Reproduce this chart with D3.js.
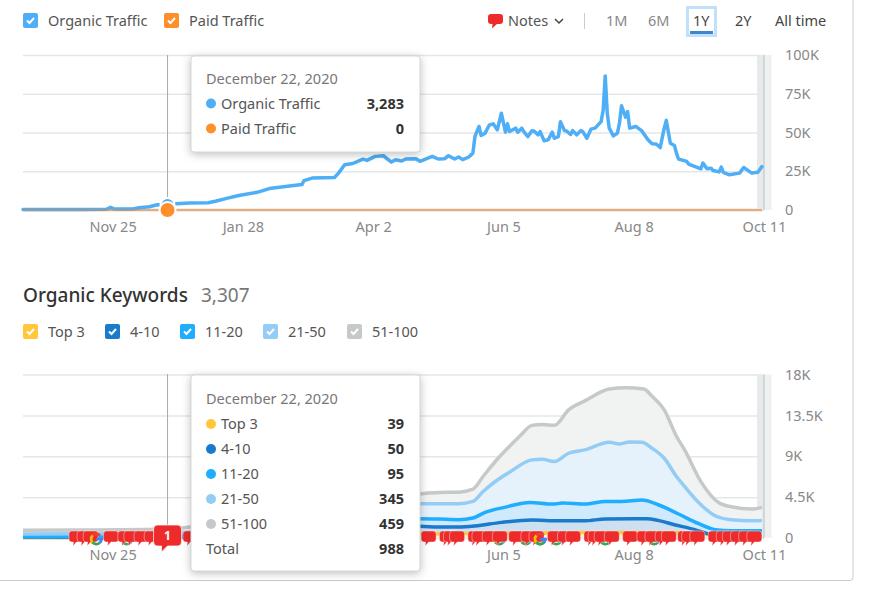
<!DOCTYPE html>
<html>
<head>
<meta charset="UTF-8">
<title>Organic Traffic and Keywords</title>
<script src="https://cdn.jsdelivr.net/npm/d3@7"></script>
<style>
    body { margin: 0; background: #fff; }
    svg { display: block; }
    text { font-family: "Noto Sans", sans-serif; font-size: 14.5px; fill: #555; }
    .axis text { fill: #888; font-size: 14.5px; }
    .axis .domain { display: none; }
    .xaxis line { display: none; }
    .yaxis line { stroke: #e5e7e7; stroke-width: 1.5; }
</style>
</head>
<body>
<svg id="svg" width="873" height="605"></svg>
<script>
var WIDTH = 873, HEIGHT = 605;
var LEFT = 23, RIGHT = 764;

// days are counted from the first date of the chart
var startDate = new Date(2020, 9, 12);
var xTickDates = [new Date(2020, 10, 25), new Date(2021, 0, 28), new Date(2021, 3, 2), new Date(2021, 5, 5), new Date(2021, 7, 8), new Date(2021, 9, 11)];
// Jan 28 and Apr 2 are behind the tooltip in the lower chart
var xTickDatesLower = [new Date(2020, 10, 25), new Date(2021, 5, 5), new Date(2021, 7, 8), new Date(2021, 9, 11)];

var trafficTicks = [0, 25, 50, 75, 100];
var keywordTicks = [0, 4.5, 9, 13.5, 18];

var organicDays = [0,28,41,43,45,54,57,62,66,71,75,82,91,95,100,106,115,121,129,137,138,142,153,155,158,162,167,169,173,177,181,183,186,188,193,195,201,204,207,209,212,214,216,219,221,222,224,225,227,229,231,233,235,237,238,239,242,243,245,246,248,250,251,253,254,256,258,260,261,263,264,266,267,269,270,272,274,275,277,279,281,284,285,286,287,288,290,292,293,294,296,297,298,301,304,307,309,311,313,315,316,318,320,321,322,326,327,333,334,336,338,339,342,343,344,347,352,354,358,361,363];
var organicValues = [0.3,0.4,0.5,1.7,0.6,0.6,1.5,2.1,3.4,3.283,4.1,4.5,4.7,5.8,7.5,9.4,11.4,13.8,15.1,16.4,18.9,20.6,21,23.8,29.2,30,32.8,32,34.6,35,30.9,32.4,31.6,32.9,33.1,31.4,34.6,32.9,33,35,32.9,34.2,32.5,34.2,36.7,47.4,53.9,48.1,49.6,54.7,55.6,51.7,62.4,50.2,55.6,50.6,52.8,50.2,52.8,50.6,47.4,51.2,51,48.5,50.6,44.6,45.3,50.2,46.3,47.4,57,51.2,51,48.7,51.2,48.5,51.2,50.6,46.3,52.2,52.8,57,64.5,86.5,62.4,52.8,47.8,49.6,56,67.2,59.9,63.5,52.8,53.9,51,45.3,42.8,42.6,40.3,52.8,57.8,43.1,41.6,36.7,32.9,31.4,29.6,26.6,30.3,26.6,27,25.5,24.6,27.7,24.3,22.7,23.8,27.4,23.8,24.3,28];
var paidDays = [0, 363];
var paidValues = [0, 0];

// keyword lines are stacked, so these are the running totals (thousands)
var grayDays = [0,30,71,82,130,170,195,204,214,221,226,232,239,244,250,255,261,268,276,288,296,305,309,315,321,325,333,342,348,358,363];
var grayValues = [0.85,0.88,0.988,1.2,2.8,4.4,4.87,5,5.05,5.38,6.77,8.42,10.1,11.2,12.4,12.5,12.4,14.1,15.1,16.4,16.55,16.4,15.6,14.1,11.2,9.7,6.2,3.85,3.44,3.18,3.37];
var paleDays = [0,30,71,82,130,170,195,204,214,221,226,232,239,250,255,261,268,276,288,293,298,304,309,315,321,325,333,340,348,358,363];
var paleValues = [0.45,0.48,0.529,0.65,2,3.4,3.77,3.77,3.77,4.03,5.12,6.22,7.25,8.6,8.67,8.42,9.33,9.7,10.54,10.36,10.58,10.54,9.88,8.78,6.77,5.67,3.66,2.45,2.01,1.9,1.94];
var cyanDays = [0,30,71,130,170,195,204,214,221,227,237,249,260,265,276,286,294,304,312,322,332,340,348,363];
var cyanValues = [0.12,0.14,0.184,1,1.9,2.12,2.09,2.01,2.2,2.82,3.4,3.92,3.73,3.84,3.73,4.03,4.03,4.17,3.66,2.64,1.57,0.92,0.8,0.8];
var blueDays = [0,71,130,170,195,204,214,222,235,250,263,276,286,306,312,320,330,335,341,363];
var blueValues = [0.08,0.089,0.6,1.1,1.28,1.21,1.21,1.32,1.72,1.98,1.9,1.9,2.09,2.12,1.94,1.46,0.92,0.55,0.26,0.2];
var topDays = [0,71,130,195,276,322,335,345,363];
var topValues = [0.03,0.039,0.3,0.45,0.6,0.6,0.4,0.3,0.15];

var noteDays = [26,30,33,43,50,53,58,63,82,199,208,210,213,222,224,229,234,242,248,252,261,266,270,279,281,284,289,298,305,309,314,317,325,327,331,340,344,347,351,355,359];
var googleUnderDays = [51,234,247,254,262,286,310];
var googleOverDays = [36,254];

var trafficLegend = ["Organic Traffic", "Paid Traffic"];
var trafficLegendX = [23, 164];
var trafficColors = ["#4eaef6", "#ff8f2b"];
var keywordNames = ["Top 3", "4-10", "11-20", "21-50", "51-100"];
var keywordLegendX = [23, 105, 180, 263, 347];
var keywordColors = ["#ffc73a", "#1a7acc", "#1fadff", "#93ccf5", "#c6c9c9"];
var ranges = ["1M", "6M", "1Y", "2Y", "All time"];
var rangeX = [606, 648, 693, 735, 775];
var rangeColors = ["#888", "#888", "#444", "#444", "#444"];
var trafficTip = ["3,283", "0"];
var keywordTip = ["39", "50", "95", "345", "459"];

var svg = d3.select("#svg");

var xScale = d3.scaleTime()
    .domain([startDate, xTickDates[5]])
    .range([LEFT, RIGHT]);
var yTraffic = d3.scaleLinear().domain([0, 100]).range([210, 55]);
var yKeywords = d3.scaleLinear().domain([0, 18]).range([538, 374.5]);

function dayX(d) {
    return xScale(d3.timeDay.offset(startDate, d));
}

function checkbox(x, y, color) {
    svg.append("rect").attr("x", x).attr("y", y).attr("width", 15).attr("height", 15).attr("rx", 2).attr("fill", color);
    svg.append("path")
        .attr("transform", "translate(" + x + "," + y + ")")
        .attr("d", "M4 7.5L6.5 10L11 5")
        .attr("fill", "none").attr("stroke", "#fff").attr("stroke-width", 2);
}

// card outline
svg.append("path")
    .attr("d", "M0 580.5H850a3 3 0 0 0 3-3V0")
    .attr("fill", "none").attr("stroke", "#ccc");

// top legend
trafficLegend.forEach(function(name, i) {
    checkbox(trafficLegendX[i], 13, trafficColors[i]);
    svg.append("text").attr("x", trafficLegendX[i] + 25).attr("y", 26).text(name);
});

// notes and range buttons
svg.append("path").attr("transform", "translate(488,14)")
    .attr("d", "M3 0H12a3 3 0 0 1 3 3V7a3 3 0 0 1-3 3H9L4 14.5L4.5 10H3a3 3 0 0 1-3-3V3a3 3 0 0 1 3-3Z")
    .attr("fill", "#ee2b2b");
svg.append("text").attr("x", 508).attr("y", 26).text("Notes");
svg.append("path").attr("d", "M555 19L559 23L563 19").attr("fill", "none").attr("stroke", "#444").attr("stroke-width", 1.5);
svg.append("line").attr("x1", 584.5).attr("x2", 584.5).attr("y1", 13).attr("y2", 29).attr("stroke", "#ccc");
svg.append("rect").attr("x", 687.5).attr("y", 7.5).attr("width", 28).attr("height", 28).attr("fill", "none").attr("stroke", "#c2e0f7").attr("stroke-width", 3);
svg.append("rect").attr("x", 690).attr("y", 31).attr("width", 23).attr("height", 3).attr("fill", "#3f86d0");
ranges.forEach(function(r, i) {
    svg.append("text").attr("x", rangeX[i]).attr("y", 26).style("fill", rangeColors[i]).text(r);
});

function drawAxes(yScale, ticks, fmt, xTicks) {
    svg.append("g").attr("class", "axis yaxis")
        .attr("transform", "translate(" + RIGHT + ",0)")
        .call(d3.axisRight(yScale).tickValues(ticks).tickFormat(fmt).tickSize(-(RIGHT - LEFT)).tickPadding(21));
    svg.append("g").attr("class", "axis xaxis")
        .attr("transform", "translate(0," + yScale(0) + ")")
        .call(d3.axisBottom(xScale).tickValues(xTicks).tickFormat(d3.timeFormat("%b %-d")).tickSize(0).tickPadding(12));
    // hover band on the last date
    var top = yScale(ticks[4]), h = yScale(0) - top;
    svg.append("rect").attr("x", RIGHT).attr("y", top).attr("width", 7.5).attr("height", h).attr("fill", "#eef1f1");
    svg.append("rect").attr("x", RIGHT - 7).attr("y", top).attr("width", 7).attr("height", h).attr("fill", "#e6eaea");
    svg.append("line").attr("x1", RIGHT).attr("x2", RIGHT).attr("y1", top).attr("y2", yScale(0)).attr("stroke", "#b8c0c0");
}

var kFormat = function(d) { return d === 0 ? "0" : d + "K"; };
drawAxes(yTraffic, trafficTicks, kFormat, xTickDates);
drawAxes(yKeywords, keywordTicks, kFormat, xTickDatesLower);

function seriesLine(days, values, yScale, curve) {
    var pts = days.map(function(d, i) { return [dayX(d), yScale(values[i])]; });
    return d3.line().curve(curve)(pts);
}
function seriesArea(days, values, yScale, curve) {
    var pts = days.map(function(d, i) { return [dayX(d), yScale(values[i])]; });
    return d3.area().curve(curve).y0(yScale(0))(pts);
}

// traffic lines, the paid line stays visible through the blue one
svg.append("path").attr("d", seriesLine(paidDays, paidValues, yTraffic, d3.curveLinear))
    .attr("fill", "none").attr("stroke", "#f7dcc4").attr("stroke-width", 3);
svg.append("path").attr("d", seriesLine(organicDays, organicValues, yTraffic, d3.curveLinear))
    .attr("fill", "none").attr("stroke", "#4eaef6").attr("stroke-width", 3.5)
    .attr("stroke-linejoin", "round").attr("stroke-linecap", "round");
svg.append("path").attr("d", seriesLine(paidDays, paidValues, yTraffic, d3.curveLinear))
    .attr("fill", "none").attr("stroke", "#c98a55").attr("stroke-width", 1.5).attr("stroke-opacity", 0.75);

// hover marks in the traffic chart
var hoverX = dayX(71);
svg.append("line").attr("x1", hoverX).attr("x2", hoverX).attr("y1", 55).attr("y2", 205).attr("stroke", "#aaa");
svg.append("circle").attr("cx", hoverX).attr("cy", yTraffic(3.283)).attr("r", 7).attr("fill", "#4eaef6").attr("stroke", "#fff").attr("stroke-width", 2);
svg.append("circle").attr("cx", hoverX).attr("cy", yTraffic(0)).attr("r", 8).attr("fill", "#ff8f2b").attr("stroke", "#fff").attr("stroke-width", 2);

// keywords heading and legend
svg.append("text").attr("x", 23).attr("y", 302).style("font-size", "19px").style("font-weight", 500).style("fill", "#333").text("Organic Keywords");
svg.append("text").attr("x", 201).attr("y", 302).style("font-size", "19px").style("fill", "#777").text("3,307");
keywordNames.forEach(function(name, i) {
    checkbox(keywordLegendX[i], 324, keywordColors[i]);
    svg.append("text").attr("x", keywordLegendX[i] + 25).attr("y", 337).text(name);
});

// stacked keyword areas back to front, lines the other way round
var stack = [
    {days: grayDays, values: grayValues, line: "#c6c9c9", fill: "#f1f3f3"},
    {days: paleDays, values: paleValues, line: "#93ccf5", fill: "#e6f2fb"},
    {days: cyanDays, values: cyanValues, line: "#1fadff", fill: "#cfeafc"},
    {days: blueDays, values: blueValues, line: "#1a7acc", fill: "#cde0f1"},
    {days: topDays, values: topValues, line: "#ffc73a", fill: "#fff0c8"}
];
stack.forEach(function(s) {
    svg.append("path").attr("d", seriesArea(s.days, s.values, yKeywords, d3.curveMonotoneX)).attr("fill", s.fill);
});
stack.slice().reverse().forEach(function(s) {
    svg.append("path").attr("d", seriesLine(s.days, s.values, yKeywords, d3.curveMonotoneX))
        .attr("fill", "none").attr("stroke", s.line).attr("stroke-width", 3.5);
});

svg.append("line").attr("x1", hoverX).attr("x2", hoverX).attr("y1", 374).attr("y2", 525).attr("stroke", "#aaa");

// google marks
var googleColors = ["#ea4335", "#fbbc05", "#34a853", "#4285f4"];
var googleStart = [-0.8, -2.4, 2.4, 1.57];
var googleEnd = [0.8, -0.8, 4.0, 2.4];
var arc = d3.arc().innerRadius(3.6).outerRadius(6.5);
function googleMark(d) {
    var g = svg.append("g").attr("transform", "translate(" + dayX(d) + ",539)");
    googleColors.forEach(function(c, i) {
        g.append("path").attr("fill", c)
            .attr("d", arc({startAngle: googleStart[i], endAngle: googleEnd[i]}));
    });
    g.append("rect").attr("x", 0).attr("y", -1.2).attr("width", 6.5).attr("height", 2.6).attr("fill", "#4285f4");
}
googleUnderDays.forEach(googleMark);

// notes along the baseline
svg.selectAll(".note").data(noteDays).enter().append("path")
    .attr("class", "note")
    .attr("transform", function(d) { return "translate(" + (dayX(d) - 7) + ",531)"; })
    .attr("d", "M3 0H12a3 3 0 0 1 3 3V8a3 3 0 0 1-3 3H7.5L4 15L4.5 11H3a3 3 0 0 1-3-3V3a3 3 0 0 1 3-3Z")
    .attr("fill", "#ee2b2b").attr("stroke", "#fff").attr("stroke-width", 0.4);

googleOverDays.forEach(googleMark);

// selected note
svg.append("path")
    .attr("transform", "translate(" + (hoverX - 14) + ",525)")
    .attr("d", "M4 0H24a4 4 0 0 1 4 4V17a4 4 0 0 1-4 4H14L8 27L8 21H4a4 4 0 0 1-4-4V4a4 4 0 0 1 4-4Z")
    .attr("fill", "#ee2b2b").attr("stroke", "#fff").attr("stroke-width", 0.7);
svg.append("text").attr("x", hoverX).attr("y", 540).attr("text-anchor", "middle")
    .style("fill", "#fff").style("font-size", "12px").style("font-weight", 700).text("1");

function tooltip(top, height, firstRow, rows) {
    svg.append("rect").attr("x", 191).attr("y", top).attr("width", 229).attr("height", height).attr("rx", 3)
        .attr("fill", "#fff").attr("stroke", "#d5d8d8")
        .style("filter", "drop-shadow(0 2px 4px rgba(0,0,0,0.25))");
    svg.append("text").attr("x", 206).attr("y", top + firstRow - 25).style("fill", "#777").text("December 22, 2020");
    rows.forEach(function(r, i) {
        var y = top + firstRow + i * 25;
        if (r.color) {
            svg.append("circle").attr("cx", 211).attr("cy", y - 5).attr("r", 5).attr("fill", r.color);
        }
        svg.append("text").attr("x", r.color ? 221 : 206).attr("y", y).text(r.name);
        svg.append("text").attr("x", 404).attr("y", y).attr("text-anchor", "end")
            .style("fill", "#333").style("font-weight", 700).text(r.value);
    });
}

tooltip(56, 96, 52.5, trafficLegend.map(function(n, i) {
    return {name: n, color: trafficColors[i], value: trafficTip[i]};
}));
var keywordRows = keywordNames.map(function(n, i) {
    return {name: n, color: keywordColors[i], value: keywordTip[i]};
});
keywordRows.push({name: "Total", color: null, value: "988"});
tooltip(375, 196, 54, keywordRows);
</script>
</body>
</html>
